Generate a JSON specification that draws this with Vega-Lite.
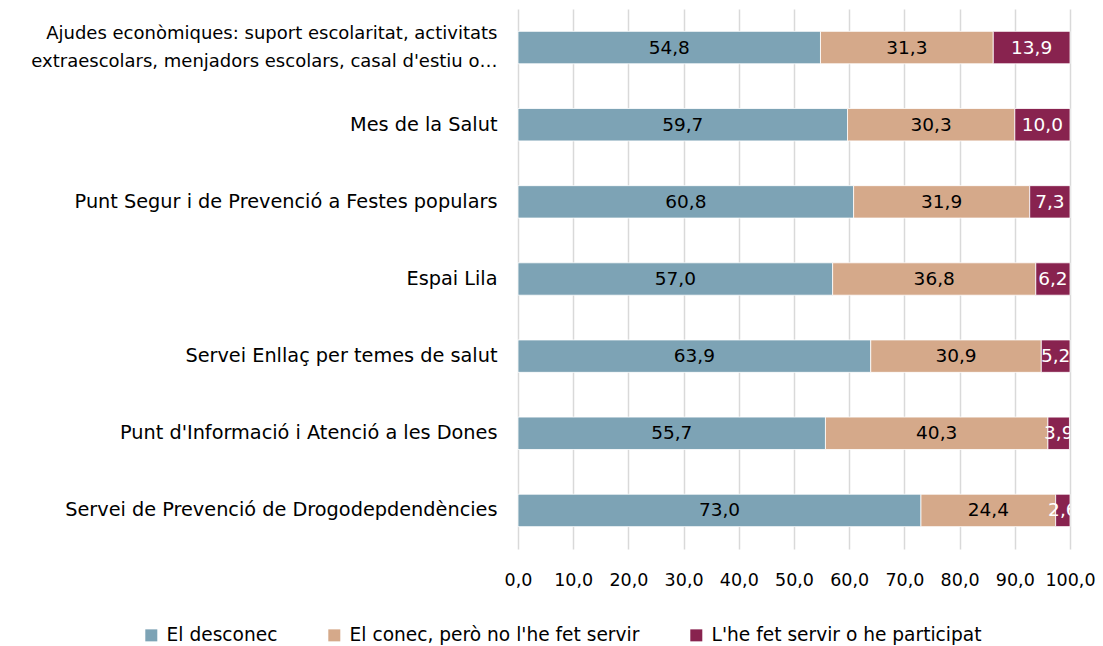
{
  "$schema": "https://vega.github.io/schema/vega-lite/v6.json",
  "autosize": {"type": "none"},
  "width": 552,
  "height": 540,
  "padding": {"left": 518, "top": 9, "right": 33, "bottom": 97},
  "background": "white",
  "config": {
    "locale": {"number": {"decimal": ",", "thousands": ".", "grouping": [3], "currency": ["", " €"]}},
    "view": {"stroke": null},
    "font": "DejaVu Sans"
  },
  "data": {
    "values": [
      {"cat": "Ajudes econòmiques: suport escolaritat, activitats|extraescolars, menjadors escolars, casal d'estiu o…", "ord": 1, "resp": "El desconec", "ro": 1, "v": 54.8},
      {"cat": "Ajudes econòmiques: suport escolaritat, activitats|extraescolars, menjadors escolars, casal d'estiu o…", "ord": 1, "resp": "El conec, però no l'he fet servir", "ro": 2, "v": 31.3},
      {"cat": "Ajudes econòmiques: suport escolaritat, activitats|extraescolars, menjadors escolars, casal d'estiu o…", "ord": 1, "resp": "L'he fet servir o he participat", "ro": 3, "v": 13.9},
      {"cat": "Mes de la Salut", "ord": 2, "resp": "El desconec", "ro": 1, "v": 59.7},
      {"cat": "Mes de la Salut", "ord": 2, "resp": "El conec, però no l'he fet servir", "ro": 2, "v": 30.3},
      {"cat": "Mes de la Salut", "ord": 2, "resp": "L'he fet servir o he participat", "ro": 3, "v": 10.0},
      {"cat": "Punt Segur i de Prevenció a Festes populars", "ord": 3, "resp": "El desconec", "ro": 1, "v": 60.8},
      {"cat": "Punt Segur i de Prevenció a Festes populars", "ord": 3, "resp": "El conec, però no l'he fet servir", "ro": 2, "v": 31.9},
      {"cat": "Punt Segur i de Prevenció a Festes populars", "ord": 3, "resp": "L'he fet servir o he participat", "ro": 3, "v": 7.3},
      {"cat": "Espai Lila", "ord": 4, "resp": "El desconec", "ro": 1, "v": 57.0},
      {"cat": "Espai Lila", "ord": 4, "resp": "El conec, però no l'he fet servir", "ro": 2, "v": 36.8},
      {"cat": "Espai Lila", "ord": 4, "resp": "L'he fet servir o he participat", "ro": 3, "v": 6.2},
      {"cat": "Servei Enllaç per temes de salut", "ord": 5, "resp": "El desconec", "ro": 1, "v": 63.9},
      {"cat": "Servei Enllaç per temes de salut", "ord": 5, "resp": "El conec, però no l'he fet servir", "ro": 2, "v": 30.9},
      {"cat": "Servei Enllaç per temes de salut", "ord": 5, "resp": "L'he fet servir o he participat", "ro": 3, "v": 5.2},
      {"cat": "Punt d'Informació i Atenció a les Dones", "ord": 6, "resp": "El desconec", "ro": 1, "v": 55.7},
      {"cat": "Punt d'Informació i Atenció a les Dones", "ord": 6, "resp": "El conec, però no l'he fet servir", "ro": 2, "v": 40.3},
      {"cat": "Punt d'Informació i Atenció a les Dones", "ord": 6, "resp": "L'he fet servir o he participat", "ro": 3, "v": 3.9},
      {"cat": "Servei de Prevenció de Drogodepdendències", "ord": 7, "resp": "El desconec", "ro": 1, "v": 73.0},
      {"cat": "Servei de Prevenció de Drogodepdendències", "ord": 7, "resp": "El conec, però no l'he fet servir", "ro": 2, "v": 24.4},
      {"cat": "Servei de Prevenció de Drogodepdendències", "ord": 7, "resp": "L'he fet servir o he participat", "ro": 3, "v": 2.6}
    ]
  },
  "encoding": {
    "y": {
      "field": "cat", "type": "nominal",
      "sort": {"field": "ord", "op": "min", "order": "ascending"},
      "scale": {"paddingInner": 0.58, "paddingOuter": 0.29},
      "axis": {
        "title": null, "domain": false, "ticks": false, "labelPadding": 21,
        "labelFont": "DejaVu Sans",
        "labelFontSize": {"condition": {"test": "indexof(datum.value, '|') >= 0", "value": 18}, "value": 19.3},
        "labelOffset": {"condition": {"test": "indexof(datum.value, '|') >= 0", "value": -14}, "value": 0},
        "labelColor": "#000000",
        "labelLimit": 700, "labelLineHeight": 28,
        "labelExpr": "split(datum.value, '|')"
      }
    }
  },
  "layer": [
    {
      "mark": {"type": "bar", "stroke": "white", "strokeWidth": 0.8},
      "encoding": {
        "x": {
          "field": "v", "type": "quantitative", "stack": "zero",
          "scale": {"domain": [0, 100], "nice": false},
          "axis": {
            "title": null, "format": ".1f", "values": [0,10,20,30,40,50,60,70,80,90,100],
            "labelOverlap": false,
            "domain": false, "ticks": false, "grid": true, "gridColor": "#D9D9D9", "gridWidth": 1.5,
            "labelFont": "DejaVu Sans", "labelFontSize": 17.5, "labelColor": "#000000", "labelPadding": 22,
            "labelFlush": false
          }
        },
        "color": {
          "field": "resp", "type": "nominal",
          "sort": ["El desconec", "El conec, però no l'he fet servir", "L'he fet servir o he participat"],
          "scale": {
            "domain": ["El desconec", "El conec, però no l'he fet servir", "L'he fet servir o he participat"],
            "range": ["#7DA3B5", "#D5A98A", "#88234F"]
          },
          "legend": {
            "title": null, "orient": "none", "direction": "horizontal",
            "legendX": -376, "legendY": 617,
            "symbolType": "square", "symbolSize": 144, "symbolStrokeWidth": 0,
            "labelFont": "DejaVu Sans", "labelFontSize": 18.6, "labelColor": "#000000", "labelLimit": 500,
            "columnPadding": 47, "labelOffset": 6
          }
        },
        "order": {"field": "ro", "type": "quantitative"}
      }
    },
    {
      "mark": {"type": "text", "font": "DejaVu Sans", "fontSize": 18.5, "clip": true, "baseline": "middle", "align": "center"},
      "encoding": {
        "x": {"field": "v", "type": "quantitative", "stack": "zero", "bandPosition": 0.5},
        "detail": {"field": "resp"},
        "order": {"field": "ro", "type": "quantitative"},
        "text": {"field": "v", "type": "quantitative", "format": ".1f"},
        "color": {
          "condition": {"test": "datum.ro == 3", "value": "#FFFFFF"},
          "value": "#000000"
        }
      }
    }
  ]
}
